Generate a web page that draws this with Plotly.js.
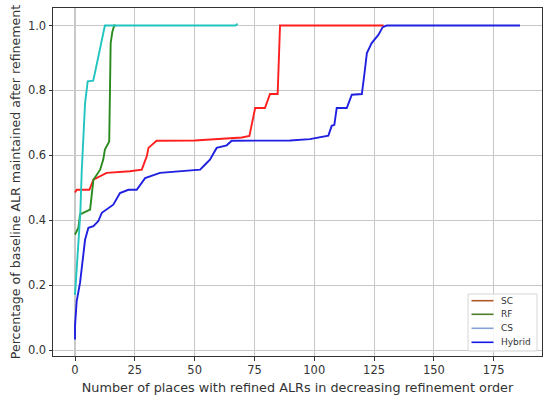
<!DOCTYPE html>
<html>
<head>
<meta charset="utf-8">
<script src="https://cdn.plot.ly/plotly-3.0.1.min.js"></script>
<style>
  html, body { margin: 0; padding: 0; background: #fff; }
  #grafico { width: 550px; height: 401px; }
</style>
</head>
<body>
<div id="grafico"></div>
<script>
// Curvas (x = número de lugares, y = fração do ALR base)
const scX = [0, 0.7, 6, 7.7, 13.2, 23, 27.9, 30, 30.7, 34.1, 50, 69.7, 72.9, 73.9, 75.3, 79.4, 81.5, 84.7, 85.7, 100, 129];
const scY = [0.486, 0.494, 0.494, 0.525, 0.546, 0.551, 0.556, 0.597, 0.623, 0.645, 0.646, 0.655, 0.66, 0.694, 0.746, 0.746, 0.789, 0.789, 1.0, 1.0, 1.0];

const rfX = [0, 1.4, 2.1, 6.3, 7.7, 10.5, 11.8, 12.5, 14.3, 14.9, 15.6, 16.4, 17];
const rfY = [0.356, 0.377, 0.418, 0.433, 0.525, 0.556, 0.587, 0.618, 0.643, 0.946, 0.98, 1.0, 1.0];

const csX = [0, 1, 2.2, 2.8, 3.5, 4.2, 5.3, 7.6, 8.5, 10.5, 11.2, 12.5, 40, 67, 68];
const csY = [0.17, 0.3, 0.42, 0.55, 0.664, 0.76, 0.828, 0.83, 0.86, 0.93, 0.96, 1.0, 1.0, 1.0, 1.005];

const hyX = [0, 0, 0.7, 2.1, 4.2, 4.6, 5.6, 7.7, 9.7, 11.2, 13.2, 16, 18.8, 22.3, 25.8, 29.3, 35.5, 48, 52.3, 54.3, 56.4,
             59.2, 63.4, 65.5, 89.9, 98.2, 101, 103.1, 105.9, 107.3, 108.4, 109.4, 113.6, 115.7, 119.9, 121, 122,
             124, 125.4, 126.8, 128.6, 130.3, 186];
const hyY = [0.033, 0.074, 0.151, 0.207, 0.34, 0.351, 0.377, 0.382, 0.397, 0.423, 0.433, 0.448, 0.484, 0.494, 0.494, 0.53, 0.546, 0.554, 0.556, 0.571, 0.587,
             0.623, 0.631, 0.645, 0.646, 0.65, 0.654, 0.658, 0.661, 0.691, 0.694, 0.746, 0.746, 0.787, 0.789, 0.853, 0.915,
             0.946, 0.958, 0.971, 0.995, 1.0, 1.0];

const nomes = ['SC', 'RF', 'CS', 'Hybrid'];
const coresLinha = ['#ff1f1f', '#2a8a1e', '#22c4c0', '#2020e0'];
const coresLegenda = ['#b0582a', '#4f7f2a', '#86a2d6', '#1414ee'];

const series = [[scX, scY], [rfX, rfY], [csX, csY], [hyX, hyY]];

const dados = series.map((s, i) => ({
    x: s[0], y: s[1], type: 'scatter', mode: 'lines', name: nomes[i],
    line: { color: coresLinha[i], width: 1.9 },
    showlegend: false, hoverinfo: 'skip'
}));

// legenda desenhada à mão (a legenda do plotly fica alta demais)
// área do gráfico em pixels: x 53..542, y 8..356
const px = v => (v - 53) / 489;
const py = v => (356 - v) / 348;
const shapes = [{
    type: 'rect', xref: 'paper', yref: 'paper',
    x0: px(468), x1: px(537), y0: py(351), y1: py(294),
    line: { color: '#d6d6d6', width: 1 }, fillcolor: 'rgba(255,255,255,0.85)', layer: 'above'
}];
const annotations = [];
const linhasY = [300.7, 314.3, 328.3, 342.3];
nomes.forEach((n, i) => {
    shapes.push({
        type: 'line', xref: 'paper', yref: 'paper',
        x0: px(471.5), x1: px(493.5), y0: py(linhasY[i]), y1: py(linhasY[i]),
        line: { color: coresLegenda[i], width: 1.6 }, layer: 'above'
    });
    annotations.push({
        xref: 'paper', yref: 'paper', x: px(499), y: py(linhasY[i]),
        xanchor: 'left', yanchor: 'middle', showarrow: false, text: n,
        font: { family: 'DejaVu Sans', size: 9, color: '#333' }
    });
});

const eixo = {
    showgrid: true, gridcolor: '#c8c8c8', gridwidth: 1.1,
    showline: true, linecolor: '#333', linewidth: 1, mirror: true,
    ticks: 'outside', ticklen: 3.5, tickcolor: '#333',
    zeroline: false,
    tickfont: { family: 'DejaVu Sans', size: 11.5, color: '#333' }
};

const layout = {
    width: 550, height: 401,
    margin: { l: 53, r: 8, t: 8, b: 45 },
    paper_bgcolor: '#fff', plot_bgcolor: '#fff',
    showlegend: false,
    xaxis: Object.assign({}, eixo, {
        range: [-9.2, 195.2], tickvals: [0, 25, 50, 75, 100, 125, 150, 175],
        title: { text: 'Number of places with refined ALRs in decreasing refinement order',
                 font: { family: 'DejaVu Sans', size: 12.8, color: '#333' }, standoff: 6 }
    }),
    yaxis: Object.assign({}, eixo, {
        range: [-0.018, 1.054], tickvals: [0, 0.2, 0.4, 0.6, 0.8, 1.0], tickformat: '.1f',
        title: { text: 'Percentage of baseline ALR maintained after refinement',
                 font: { family: 'DejaVu Sans', size: 12.6, color: '#333' }, standoff: 4 }
    }),
    shapes: shapes,
    annotations: annotations
};

Plotly.newPlot('grafico', dados, layout, { displayModeBar: false, staticPlot: true });
</script>
</body>
</html>
